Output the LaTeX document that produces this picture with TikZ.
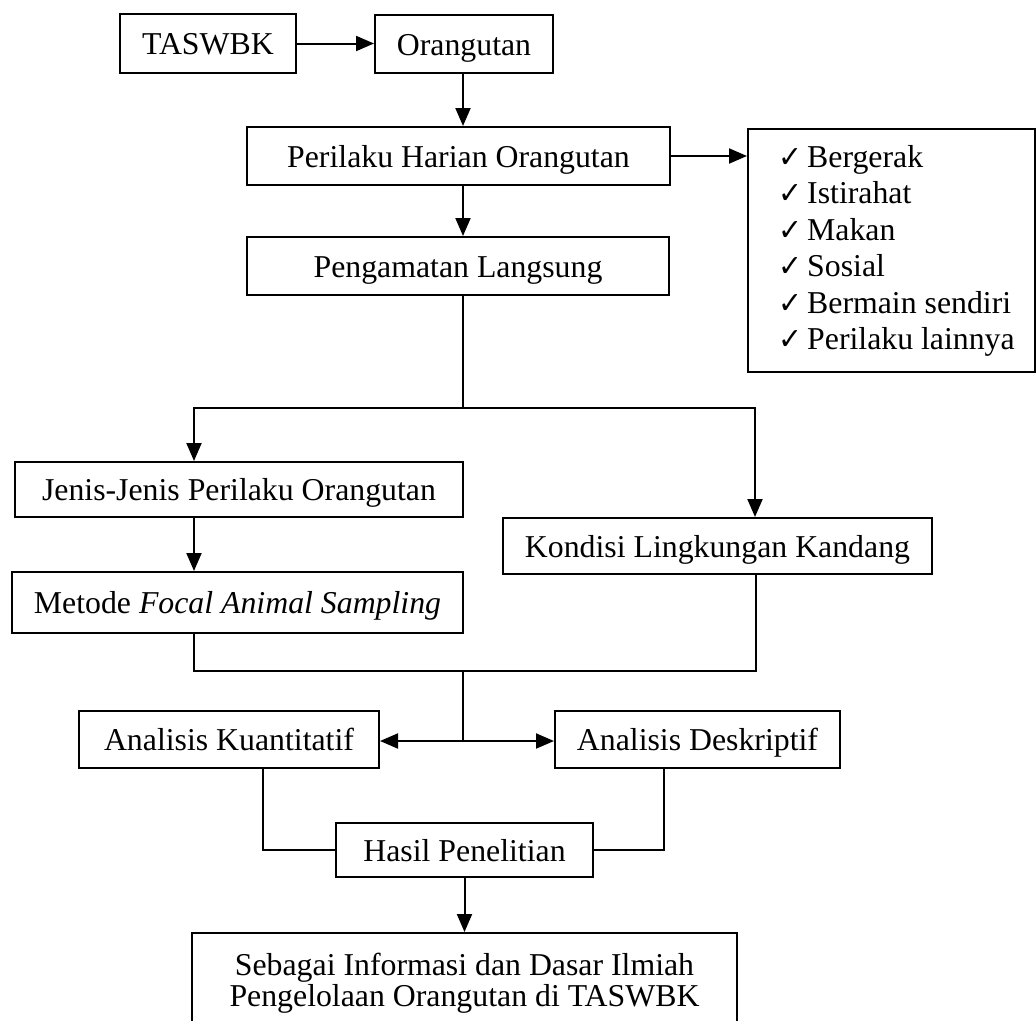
\documentclass[tikz,border=0pt]{standalone}
\usepackage{fontspec}
\setmainfont{Liberation Serif}
\newfontfamily\symfont{DejaVu Sans}
\usetikzlibrary{arrows.meta}
\newcommand{\chk}{\resizebox{24pt}{19pt}{\symfont ✓}\hspace{5pt}}
\begin{document}
\begin{tikzpicture}[x=1pt,y=-1pt,
  box/.style={draw, line width=2pt, inner sep=0pt, font=\fontsize{31.8}{36.5}\selectfont, align=center},
  onebox/.style={box, text height=22pt, text depth=0pt},
  conn/.style={line width=2pt},
  arr/.style={line width=2pt, -{Triangle[length=18pt,width=15pt]}}]
\useasboundingbox (0,0) rectangle (1036,1020);
\begin{scope}
\clip (0,0) rectangle (1036,1020);
% boxes
\node[onebox, minimum width=176pt, minimum height=59pt] (taswbk) at (208,43.5) {TASWBK};
\node[onebox, minimum width=178pt, minimum height=58pt] (orang) at (464,44) {Orangutan};
\node[onebox, minimum width=423pt, minimum height=58pt] (perilaku) at (458.5,156) {Perilaku Harian Orangutan};
\node[onebox, minimum width=422pt, minimum height=58pt] (amat) at (458,266) {Pengamatan Langsung};
\node[box, minimum width=287pt, minimum height=243pt, anchor=north west] (list) at (747,128) {};
\node[anchor=north west, align=left, inner sep=0pt, font=\fontsize{31.8}{36.5}\selectfont] (listtext)
  at ([xshift=31pt,yshift=-17pt]list.north west)
  {\chk Bergerak\\ \chk Istirahat\\ \chk Makan\\ \chk Sosial\\ \chk Bermain sendiri\\ \chk Perilaku lainnya};
\node[onebox, minimum width=448pt, minimum height=55pt] (jenis) at (239,489.5) {Jenis-Jenis Perilaku Orangutan};
\node[onebox, minimum width=451pt, minimum height=61pt] (metode) at (237.5,602.5) {Metode \textit{Focal Animal Sampling}};
\node[onebox, minimum width=429pt, minimum height=56pt] (kondisi) at (717.5,546) {Kondisi Lingkungan Kandang};
\node[onebox, minimum width=300pt, minimum height=57pt] (kuant) at (229,739.5) {Analisis Kuantitatif};
\node[onebox, minimum width=285pt, minimum height=57pt] (deskr) at (697.5,739.5) {Analisis Deskriptif};
\node[onebox, minimum width=257pt, minimum height=54pt] (hasil) at (464.5,850) {Hasil Penelitian};
\node[box, minimum width=545pt, minimum height=100pt, font=\fontsize{31.8}{31}\selectfont] (akhir) at (464.5,983)
  {Sebagai Informasi dan Dasar Ilmiah\\ Pengelolaan Orangutan di TASWBK};
% junction coordinates
\coordinate (split) at (463,408);
\coordinate (jx) at (194,0);
\coordinate (kx) at (755,0);
\coordinate (merge) at (463,671);
\coordinate (mx) at (194,0);
\coordinate (kbx) at (756,0);
\coordinate (dj) at (463,741);
\coordinate (qx) at (263,0);
\coordinate (dx) at (664,0);
% connectors
\draw[arr] (taswbk.east) -- (taswbk.east -| orang.west);
\draw[arr] (orang.south -| split) -- (perilaku.north -| split);
\draw[arr] (perilaku.south -| split) -- (amat.north -| split);
\draw[arr] (perilaku.east) -- (perilaku.east -| list.west);
\draw[conn] (amat.south -| split) -- (split);
\draw[arr] (split) -| (jenis.north -| jx);
\draw[arr] (split) -| (kondisi.north -| kx);
\draw[arr] (jenis.south -| jx) -- (metode.north -| jx);
\draw[conn] (metode.south -| mx) |- (merge) -| (kondisi.south -| kbx);
\draw[conn] (merge) -- (dj);
\draw[arr] (dj) -- (dj -| kuant.east);
\draw[arr] (dj) -- (dj -| deskr.west);
\draw[conn] (kuant.south -| qx) |- (hasil.west);
\draw[conn] (deskr.south -| dx) |- (hasil.east);
\draw[arr] (hasil.south) -- (akhir.north);
\end{scope}
\end{tikzpicture}
\end{document}
